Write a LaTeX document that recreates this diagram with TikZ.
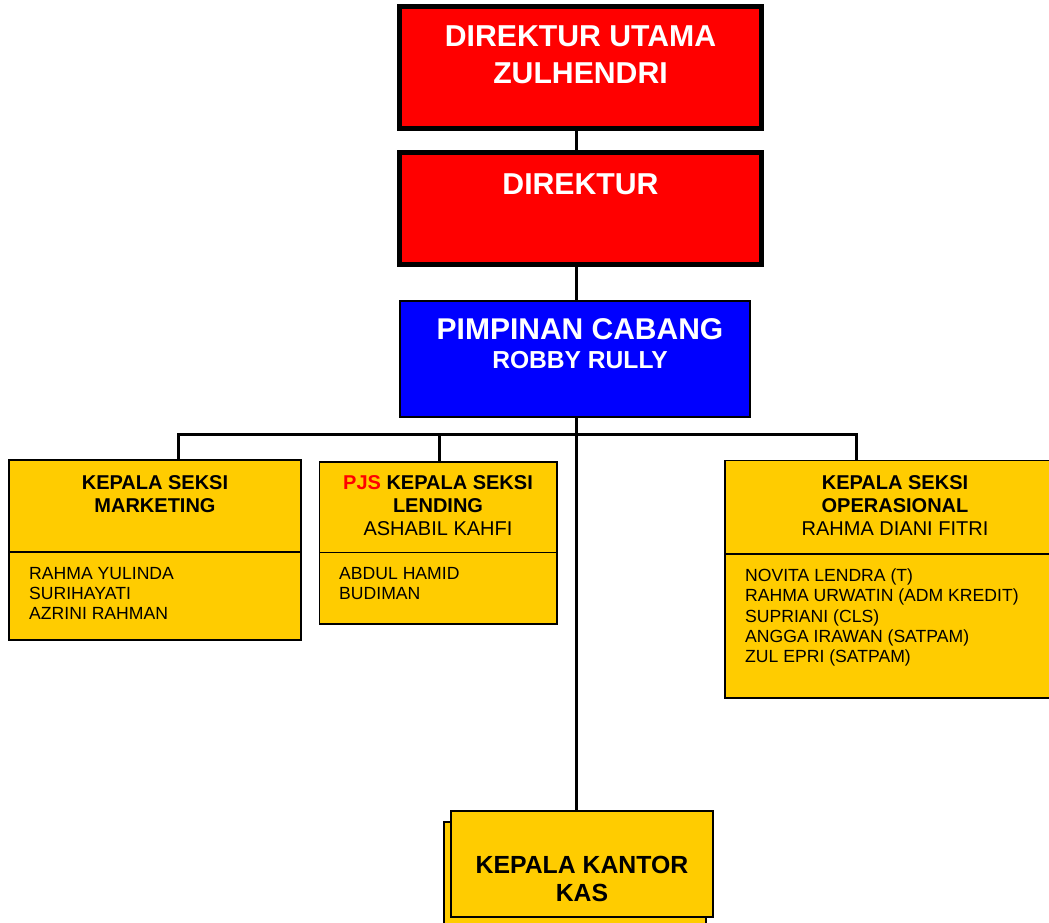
\documentclass[tikz,border=0pt]{standalone}
\usepackage{fontspec}
\setmainfont{Liberation Sans}
\definecolor{merah}{HTML}{FF0000}
\definecolor{biru}{HTML}{0000FF}
\definecolor{kuning}{HTML}{FFCC00}
\begin{document}
\begin{tikzpicture}[x=1pt,y=-1pt,
  redbox/.style={draw=black,line width=5pt,fill=merah,minimum width=362pt,inner sep=0pt},
  yellowbox/.style={draw=black,line width=1.6pt,fill=kuning,inner sep=0pt},
  link/.style={black,line width=3pt},
  boxtxt/.style={inner sep=0pt,align=center,anchor=north},
  headtxt/.style={boxtxt,font=\bfseries\fontsize{20}{23}\selectfont},
  stafftxt/.style={inner sep=0pt,align=left,anchor=north west,font=\fontsize{17.6}{20.3}\selectfont}]
\useasboundingbox (0,0) rectangle (1049,923);

\node[redbox,minimum height=122pt] (utama) at (580.5,67.5) {};
\node[boxtxt,text=white,font=\bfseries\fontsize{30.2}{36.5}\selectfont] (utamatxt) at (580.5,26) {DIREKTUR UTAMA\\ZULHENDRI};

\node[redbox,minimum height=111.5pt] (direktur) at (580.5,208.25) {};
\node[boxtxt,text=white,font=\bfseries\fontsize{30.2}{36.5}\selectfont] (direkturtxt) at (580.5,173.3) {DIREKTUR};

\node[draw=black,line width=2pt,fill=biru,minimum width=350pt,minimum height=116pt,inner sep=0pt] (cabang) at (575,359) {};
\node[boxtxt,text=white,font=\bfseries\fontsize{24.6}{29.4}\selectfont] (cabangtxt) at (580,318.3) {{\fontsize{30}{29.4}\selectfont PIMPINAN CABANG}\\ROBBY RULLY};

% kepala seksi
\node[yellowbox,minimum width=292pt,minimum height=92pt] (mkthead) at (155,506) {};
\node[yellowbox,minimum width=292pt,minimum height=88pt] (mktstaff) at (155,596) {};
\node[headtxt] (mkttxt) at (155,475.8) {KEPALA SEKSI\\MARKETING};
\node[stafftxt] (mktnames) at (29,566.7) {RAHMA YULINDA\\SURIHAYATI\\AZRINI RAHMAN};

\node[yellowbox,minimum width=237.4pt,minimum height=90.6pt] (lendhead) at (438,507) {};
\node[yellowbox,minimum width=237.4pt,minimum height=71.7pt] (lendstaff) at (438,588.2) {};
\node[headtxt] (lendtxt) at (438,475.8) {\textcolor{merah}{PJS} KEPALA SEKSI\\LENDING\\\mdseries ASHABIL KAHFI};
\node[stafftxt] (lendnames) at (339,566.7) {ABDUL HAMID\\BUDIMAN};

\node[yellowbox,minimum width=340pt,minimum height=93.3pt] (opshead) at (895,507.3) {};
\node[yellowbox,minimum width=340pt,minimum height=144pt] (opsstaff) at (895,626) {};
\node[headtxt] (opstxt) at (895,475.8) {KEPALA SEKSI\\OPERASIONAL\\\mdseries RAHMA DIANI FITRI};
\node[stafftxt] (opsnames) at (745,568.5) {NOVITA LENDRA (T)\\RAHMA URWATIN (ADM KREDIT)\\SUPRIANI (CLS)\\ANGGA IRAWAN (SATPAM)\\ZUL EPRI (SATPAM)};

% kantor kas
\node[yellowbox,minimum width=262pt,minimum height=106pt] (kasback) at (575,875) {};
\node[yellowbox,minimum width=262pt,minimum height=106pt] (kas) at (582,864) {};
\node[boxtxt,font=\bfseries\fontsize{24.8}{28}\selectfont] (kastxt) at (582,856) {KEPALA KANTOR\\KAS};

\coordinate (trunk) at (576,0);
\coordinate (mktdrop) at (178,434);
\coordinate (lenddrop) at (439,434);
\coordinate (opsdrop) at (856,434);
\draw[link] (utama.south -| trunk) -- (direktur.north -| trunk);
\draw[link] (direktur.south -| trunk) -- (cabang.north -| trunk);
\draw[link] (cabang.south -| trunk) -- (kas.north -| trunk);
\draw[link] (mktdrop |- mkthead.north) |- (opsdrop) -- (opsdrop |- opshead.north);
\draw[link] (lenddrop) -- (lenddrop |- lendhead.north);
\end{tikzpicture}
\end{document}
